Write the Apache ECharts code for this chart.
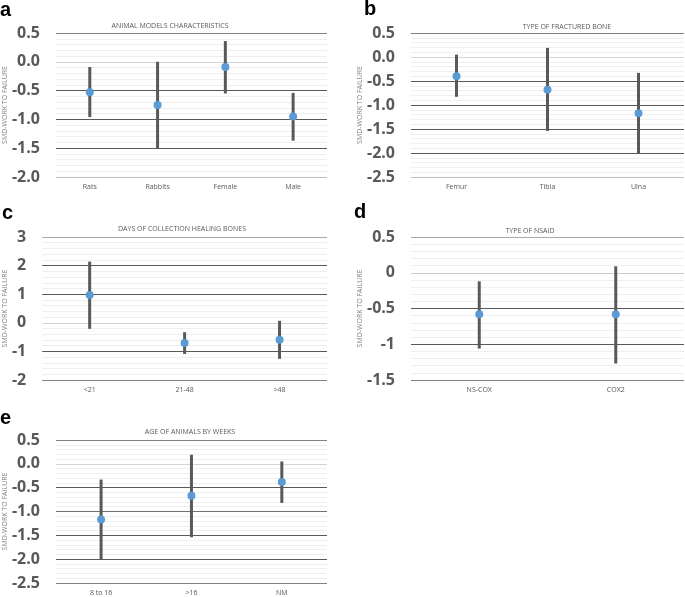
<!DOCTYPE html>
<html><head><meta charset="utf-8">
<script src="https://cdn.jsdelivr.net/npm/echarts@6/dist/echarts.min.js"></script>
<style>html,body{margin:0;padding:0;background:#fff}#c{width:685px;height:597px}</style>
</head><body><div id="c"></div>
<script>
// Panel a
const aCats = ['Rats', 'Rabbits', 'Female', 'Male'];
const aMean = [-0.53, -0.75, -0.09, -0.95];
const aLow  = [-0.96, -1.51, -0.55, -1.37];
const aHigh = [-0.09, 0.00, 0.36, -0.54];
// Panel b
const bCats = ['Femur', 'Tibia', 'Ulna'];
const bMean = [-0.40, -0.68, -1.17];
const bLow  = [-0.83, -1.54, -2.00];
const bHigh = [0.05, 0.19, -0.33];
// Panel c
const cCats = ['<21', '21-48', '>48'];
const cMean = [0.97, -0.71, -0.59];
const cLow  = [-0.21, -1.09, -1.26];
const cHigh = [2.14, -0.33, 0.07];
// Panel d
const dCats = ['NS-COX', 'COX2'];
const dMean = [-0.58, -0.58];
const dLow  = [-1.06, -1.27];
const dHigh = [-0.12, 0.09];
// Panel e
const eCats = ['8 to 16', '>16', 'NM'];
const eMean = [-1.17, -0.67, -0.38];
const eLow  = [-2.00, -1.54, -0.82];
const eHigh = [-0.33, 0.19, 0.05];
// Panel titles / letters
const panelLetters = ['a', 'b', 'c', 'd', 'e'];
const panelTitles = ['ANIMAL MODELS CHARACTERISTICS', 'TYPE OF FRACTURED BONE',
  'DAYS OF COLLECTION HEALING BONES', 'TYPE OF NSAID', 'AGE OF ANIMALS BY WEEKS'];
const yName = 'SMD-WORK TO FAILURE';

const panels = [
  {cats: aCats, mean: aMean, low: aLow, high: aHigh, min: -2, max: 0.5, step: 0.5, dec: 1,
   grid: {left: 53, right: 358, top: 33, bottom: 420}, gap: 46,
   lineColors: ['#bfbfbf', '#595959', '#595959', '#595959', '#d4d4d4', '#808080'],
   letter: [0, 0], title: [170, 22]},
  {cats: bCats, mean: bMean, low: bLow, high: bHigh, min: -2.5, max: 0.5, step: 0.5, dec: 1,
   grid: {left: 411, right: 1, top: 33, bottom: 420}, gap: 48,
   lineColors: ['#bfbfbf', '#595959', '#595959', '#595959', '#595959', '#d4d4d4', '#808080'],
   letter: [364, -1], title: [567, 23]},
  {cats: cCats, mean: cMean, low: cLow, high: cHigh, min: -2, max: 3, step: 1, dec: 0,
   grid: {left: 40, right: 358, top: 237, bottom: 217}, gap: 34,
   lineColors: ['#808080', '#595959', '#d4d4d4', '#595959', '#595959', '#aaaaaa'],
   letter: [2, 203], title: [182, 225]},
  {cats: dCats, mean: dMean, low: dLow, high: dHigh, min: -1.5, max: 0.5, step: 0.5, dec: -1,
   grid: {left: 411, right: 1, top: 237, bottom: 217}, gap: 48,
   lineColors: ['#808080', '#595959', '#595959', '#cccccc', '#aaaaaa'],
   letter: [354, 202], title: [530, 227]},
  {cats: eCats, mean: eMean, low: eLow, high: eHigh, min: -2.5, max: 0.5, step: 0.5, dec: 1,
   grid: {left: 53, right: 358, top: 440, bottom: 14}, gap: 46,
   lineColors: ['#808080', '#595959', '#595959', '#707070', '#595959', '#d4d4d4', '#808080'],
   letter: [0, 408], title: [190, 428]}
];

const option = {
  animation: false,
  backgroundColor: '#fff',
  title: [], grid: [], xAxis: [], yAxis: [], series: []
};

panels.forEach((p, i) => {
  option.title.push({
    text: panelLetters[i], left: p.letter[0], top: p.letter[1], padding: 0,
    textStyle: {fontFamily: 'Liberation Sans', fontWeight: 'bold', fontSize: 20, color: '#000'}
  });
  option.title.push({
    text: panelTitles[i], left: p.title[0], top: p.title[1], textAlign: 'center', padding: 0,
    textStyle: {fontFamily: 'Open Sans', fontWeight: 'normal', fontSize: 7, color: '#595959'}
  });
  option.grid.push(Object.assign({containLabel: false}, p.grid));
  option.xAxis.push({
    type: 'category', gridIndex: i, data: p.cats,
    axisLine: {show: false}, axisTick: {show: false},
    axisLabel: {fontFamily: 'Open Sans', fontSize: 7, color: '#595959', margin: 6},
    splitLine: {show: false}
  });
  option.yAxis.push({
    type: 'value', gridIndex: i, min: p.min, max: p.max, interval: p.step,
    name: yName, nameLocation: 'middle', nameGap: p.gap, nameRotate: 90,
    nameTextStyle: {fontFamily: 'Open Sans', fontSize: 7, color: '#7f7f7f'},
    axisLine: {show: false}, axisTick: {show: false},
    axisLabel: {
      fontFamily: 'Open Sans', fontWeight: 'bold', fontSize: 16, color: '#595959', margin: 16,
      formatter: v => p.dec >= 0 ? v.toFixed(p.dec) : String(Math.round(v * 10) / 10)
    },
    splitLine: {show: true, lineStyle: {color: p.lineColors, width: 1}},
    minorTick: {show: false, splitNumber: 5},
    minorSplitLine: {show: true, lineStyle: {color: '#efefef', width: 1}}
  });
  option.series.push({
    type: 'custom', xAxisIndex: i, yAxisIndex: i, z: 2,
    data: p.cats.map((c, k) => [k, p.low[k], p.high[k]]),
    encode: {x: 0, y: [1, 2]},
    renderItem: (params, api) => {
      const a = api.coord([api.value(0), api.value(1)]);
      const b = api.coord([api.value(0), api.value(2)]);
      return {type: 'line', shape: {x1: a[0], y1: a[1], x2: b[0], y2: b[1]},
        style: {stroke: '#595959', lineWidth: 3}};
    }
  });
  option.series.push({
    type: 'scatter', xAxisIndex: i, yAxisIndex: i, z: 5,
    data: p.mean.map((v, k) => [k, v]),
    symbol: 'circle', symbolSize: 8,
    itemStyle: {color: '#5b9bd5', opacity: 1}
  });
});

const chart = echarts.init(document.getElementById('c'), null, {renderer: 'canvas'});
chart.setOption(option);
</script>
</body></html>
